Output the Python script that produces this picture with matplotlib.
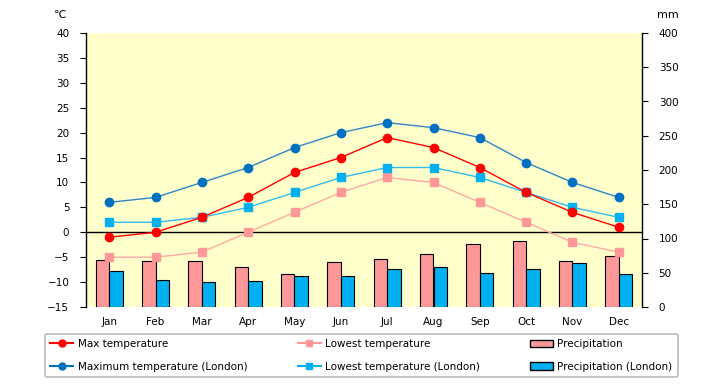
import matplotlib
matplotlib.use("Agg")
import matplotlib.pyplot as plt
import numpy as np
from matplotlib.lines import Line2D
from matplotlib.patches import Patch

months = ["Jan", "Feb", "Mar", "Apr", "May", "Jun", "Jul", "Aug", "Sep", "Oct", "Nov", "Dec"]
max_temp = [-1, 0, 3, 7, 12, 15, 19, 17, 13, 8, 4, 1]
low_temp = [-5, -5, -4, 0, 4, 8, 11, 10, 6, 2, -2, -4]
max_london = [6, 7, 10, 13, 17, 20, 22, 21, 19, 14, 10, 7]
low_london = [2, 2, 3, 5, 8, 11, 13, 13, 11, 8, 5, 3]
precip = [68, 67, 67, 59, 48, 65, 70, 77, 92, 97, 67, 75]
precip_london = [52, 39, 36, 38, 45, 45, 55, 58, 49, 56, 64, 48]

plt.rcParams["font.family"] = "DejaVu Sans"
plt.rcParams["font.size"] = 7.5

fig = plt.figure(figsize=(7.2, 3.85), dpi=100)
ax2 = fig.add_axes([86 / 720, 1 - 307 / 385, 556 / 720, 274 / 385])
ax = ax2.twinx()
ax.yaxis.tick_left()
ax2.yaxis.tick_right()
ax.set_zorder(ax2.get_zorder() + 1)
ax.patch.set_visible(False)
ax2.set_facecolor("#FFFFCC")

x = np.arange(len(months))
w = 0.29
ax2.bar(x - w / 2, precip, w, color="#FF9999", edgecolor="black", linewidth=0.8)
ax2.bar(x + w / 2, precip_london, w, color="#00B0F0", edgecolor="black", linewidth=0.8)
ax2.set_ylim(0, 400)
ax2.set_yticks(range(0, 401, 50))

ax.axhline(0, color="black", linewidth=1)
ax.plot(x, max_london, color="#2E86C8", lw=1, marker="o", ms=6, mfc="#0070C0", mec="#0070C0")
ax.plot(x, low_temp, color="#FFA8A8", lw=1, marker="s", ms=5.5, mfc="#FF9999", mec="#FF9999")
ax.plot(x, low_london, color="#33BBEE", lw=1, marker="s", ms=5.5, mfc="#00B0F0", mec="#00B0F0")
ax.plot(x, max_temp, color="#FF0000", lw=1, marker="o", ms=6, mfc="#FF0000", mec="#FF0000")
ax.set_ylim(-15, 40)
ax.set_yticks(range(-15, 41, 5))
ax.set_xlim(-0.5, 11.5)
ax2.set_xlim(-0.5, 11.5)
ax2.set_xticks(x)
ax2.set_xticklabels(months)
ax2.tick_params(axis="x", length=0, pad=7)

for a in (ax, ax2):
    a.spines["top"].set_visible(False)
    a.spines["bottom"].set_visible(False)
ax2.spines["left"].set_visible(False)
ax.spines["right"].set_visible(False)
ax.spines["left"].set_linewidth(1)
ax2.spines["right"].set_linewidth(1)
ax.tick_params(axis="y", length=4, pad=8, direction="out")
ax2.tick_params(axis="y", length=4, pad=8, direction="out")

fig.text(60 / 720, 1 - 15 / 385, "\u2103", ha="center", va="center", fontsize=8)
fig.text(668 / 720, 1 - 15 / 385, "mm", ha="center", va="center", fontsize=8)

handles = [
    Line2D([], [], color="#FF0000", marker="o", ms=5),
    Line2D([], [], color="#0070C0", marker="o", ms=5),
    Line2D([], [], color="#FF9999", marker="s", ms=5),
    Line2D([], [], color="#00B0F0", marker="s", ms=5),
    Patch(facecolor="#FF9999", edgecolor="black"),
    Patch(facecolor="#00B0F0", edgecolor="black"),
]
labels = ["Max temperature", "Maximum temperature (London)",
          "Lowest temperature", "Lowest temperature (London)",
          "Precipitation", "Precipitation (London)"]
leg = fig.legend(handles, labels, ncol=3, loc="lower left", mode="expand",
                 bbox_to_anchor=(40 / 720, 1 - 382 / 385, 643 / 720, 50 / 385),
                 bbox_transform=fig.transFigure,
                 fancybox=True, edgecolor="#AAAAAA", handlelength=2.2,
                 handletextpad=0.4, labelspacing=1.2, fontsize=7.5, borderpad=0.5)
leg.get_frame().set_linewidth(1.2)

fig.savefig("out.png", dpi=100)
